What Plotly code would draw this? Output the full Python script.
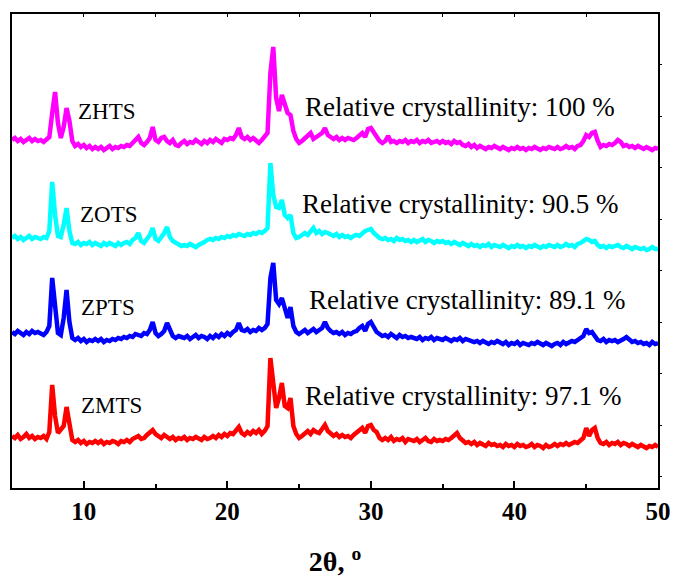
import plotly.graph_objects as go

# 2-theta sampling grid (degrees), 5.0 .. 50.0 step 0.2
two_theta = [round(5 + 0.2 * i, 1) for i in range(226)]

# Intensities (a.u.), one row = 2 degrees
zhts = [
    53, 55, 52, 54, 51, 53, 55, 52, 54, 52,
    53, 51, 54, 56, 80, 101, 70, 55, 66, 85,
    72, 52, 47, 49, 46, 48, 45, 47, 44, 46,
    44, 46, 43, 45, 47, 44, 46, 45, 47, 46,
    48, 47, 50, 53, 56, 50, 48, 51, 55, 66,
    53, 51, 55, 56, 52, 50, 53, 48, 47, 50,
    52, 49, 51, 50, 53, 51, 49, 52, 50, 53,
    51, 54, 52, 50, 54, 53, 55, 54, 58, 65,
    56, 54, 56, 53, 55, 52, 50, 53, 56, 60,
    120, 146, 95, 82, 98, 90, 80, 78, 62, 54,
    50, 52, 55, 58, 60, 54, 56, 58, 60, 65,
    58, 56, 54, 56, 53, 55, 53, 55, 54, 53,
    55, 57, 60, 56, 64, 65, 60, 55, 52, 50,
    52, 57, 51, 52, 50, 52, 51, 53, 50, 52,
    51, 53, 50, 52, 51, 53, 50, 51, 52, 50,
    52, 50, 51, 49, 52, 50, 51, 48, 47, 49,
    46, 48, 45, 47, 46, 44, 46, 45, 47, 45,
    44, 46, 45, 43, 45, 44, 46, 44, 45, 43,
    45, 44, 46, 44, 43, 45, 44, 46, 45, 44,
    46, 44, 45, 47, 45, 46, 44, 47, 48, 52,
    58, 56, 60, 61, 52, 46, 48, 47, 49, 48,
    50, 53, 51, 47, 48, 46, 47, 45, 47, 46,
    44, 46, 45, 43, 45, 44,
]

zots = [
    55, 57, 54, 56, 53, 55, 57, 54, 56, 55,
    54, 56, 55, 62, 111, 78, 57, 56, 68, 85,
    62, 50, 49, 51, 48, 50, 49, 51, 48, 50,
    49, 47, 50, 48, 50, 49, 47, 50, 48, 50,
    51, 49, 53, 55, 60, 52, 50, 54, 58, 65,
    54, 52, 56, 60, 66, 56, 52, 50, 49, 47,
    48, 47, 49, 48, 46, 48, 49, 51, 53, 54,
    53, 55, 54, 56, 55, 57, 56, 58, 57, 59,
    58, 57, 59, 58, 60, 59, 61, 60, 62, 65,
    130, 98, 86, 85, 93, 78, 75, 78, 60, 55,
    56, 58, 60, 58, 62, 65, 60, 62, 59, 61,
    60, 58, 57, 59, 56, 58, 56, 57, 55, 57,
    58, 57, 60, 62, 63, 64, 60, 57, 55, 54,
    55, 53, 54, 52, 55, 53, 54, 52, 53, 51,
    53, 51, 52, 54, 51, 53, 52, 50, 52, 51,
    52, 50, 51, 49, 51, 50, 48, 50, 49, 47,
    49, 47, 48, 46, 48, 47, 49, 46, 48, 47,
    46, 48, 47, 45, 47, 46, 48, 46, 47, 45,
    47, 46, 48, 46, 45, 47, 46, 48, 47, 46,
    48, 46, 47, 49, 47, 48, 46, 49, 50, 52,
    54, 53, 51, 52, 48, 46, 47, 45, 47, 46,
    47, 48, 46, 45, 47, 46, 44, 46, 45, 44,
    45, 43, 44, 46, 44, 44,
]

zpts = [
    56, 54, 57, 55, 53, 56, 54, 57, 55, 56,
    55, 53, 56, 62, 110, 80, 55, 53, 70, 98,
    66, 50, 48, 50, 47, 49, 46, 48, 47, 49,
    47, 49, 46, 48, 47, 49, 48, 50, 49, 51,
    50, 52, 51, 54, 53, 52, 55, 54, 58, 66,
    55, 52, 54, 57, 65, 58, 52, 50, 52, 51,
    50, 52, 49, 51, 53, 50, 52, 51, 49, 52,
    50, 53, 51, 54, 52, 55, 53, 56, 58, 65,
    58, 57, 59, 56, 58, 57, 60, 58, 60, 64,
    110, 125, 88, 84, 90, 80, 70, 81, 62, 56,
    54, 56, 58, 55, 57, 59, 56, 58, 60, 66,
    60, 57, 55, 56, 54, 56, 53, 55, 54, 56,
    57, 60, 62, 57, 64, 66, 60, 56, 54, 52,
    53, 51, 54, 52, 50, 53, 51, 52, 50, 51,
    50, 49, 51, 48, 50, 49, 51, 48, 50, 49,
    48, 50, 49, 47, 49, 48, 50, 47, 49, 48,
    48, 46, 47, 45, 47, 46, 44, 46, 45, 47,
    45, 44, 46, 43, 45, 44, 46, 43, 45, 44,
    43, 45, 44, 46, 44, 43, 45, 44, 42, 44,
    45, 43, 46, 44, 45, 47, 46, 48, 49, 52,
    59, 55, 56, 52, 48, 47, 49, 46, 48, 47,
    48, 46, 47, 49, 51, 48, 46, 47, 45, 46,
    44, 45, 43, 46, 44, 45,
]

zmts = [
    52, 50, 53, 49, 51, 54, 50, 52, 49, 51,
    50, 52, 49, 56, 103, 72, 55, 58, 62, 81,
    62, 48, 46, 48, 45, 47, 44, 46, 45, 47,
    45, 47, 44, 46, 45, 47, 46, 44, 47, 46,
    48, 46, 49, 50, 52, 49, 50, 53, 55, 58,
    54, 52, 50, 53, 51, 49, 51, 48, 50, 49,
    51, 48, 50, 49, 51, 50, 48, 51, 49, 50,
    52, 50, 53, 51, 54, 52, 55, 54, 58, 61,
    55, 53, 56, 54, 57, 55, 58, 54, 57, 62,
    130, 100, 80, 90, 105, 82, 80, 90, 62, 54,
    50, 52, 55, 57, 54, 58, 56, 55, 59, 63,
    57, 55, 52, 54, 51, 53, 51, 52, 50, 53,
    55, 58, 60, 55, 62, 63, 58, 56, 50, 48,
    50, 48, 51, 47, 49, 48, 50, 46, 49, 48,
    47, 49, 46, 48, 50, 47, 46, 49, 47, 48,
    47, 49, 48, 50, 52, 55, 50, 47, 45, 46,
    44, 46, 43, 45, 44, 42, 45, 43, 44, 42,
    43, 41, 44, 42, 43, 41, 44, 42, 43, 41,
    42, 44, 41, 43, 42, 40, 43, 41, 42, 44,
    42, 44, 43, 45, 43, 44, 46, 45, 47, 50,
    60, 52, 58, 60, 50, 45, 44, 46, 43, 45,
    44, 46, 43, 45, 44, 42, 44, 43, 41, 43,
    42, 40, 42, 41, 43, 41,
]

sample_names = ["ZMTS", "ZPTS", "ZOTS", "ZHTS"]
series = [zmts, zpts, zots, zhts]
offsets = [0, 100, 195, 295]
colors = ["#FF0000", "#0000FF", "#00FFFF", "#FF00FF"]
crystallinity = ["97.1", "89.1", "90.5", "100"]

# label placement (data coords)
name_pos = [(9.67, 83), (9.67, 181), (9.60, 274), (9.46, 376.5)]
rc_pos = [(25.27, 92), (25.55, 188), (25.06, 284), (25.27, 381)]

FONT = "Liberation Serif, Times New Roman, serif"

fig = go.Figure()
for name, s, off, col in zip(sample_names, series, offsets, colors):
    fig.add_trace(go.Scatter(
        x=two_theta[:len(s)], y=[v + off for v in s], mode="lines", name=name,
        line=dict(color=col, width=4.5), showlegend=False,
    ))

annotations = []
for name, (ax, ay) in zip(sample_names, name_pos):
    annotations.append(dict(x=ax, y=ay, xref="x", yref="y", text=name, showarrow=False,
                            xanchor="left", yanchor="middle",
                            font=dict(family=FONT, size=23, color="black")))
for c, (ax, ay) in zip(crystallinity, rc_pos):
    annotations.append(dict(x=ax, y=ay, xref="x", yref="y",
                            text=f"Relative crystallinity: {c} %", showarrow=False,
                            xanchor="left", yanchor="middle",
                            font=dict(family=FONT, size=27, color="black")))

fig.update_layout(
    width=673, height=578, autosize=False,
    margin=dict(l=12, r=15, t=14, b=90),
    paper_bgcolor="white", plot_bgcolor="white",
    annotations=annotations,
    xaxis=dict(
        range=[5, 50], tick0=10, dtick=10, ticks="inside", ticklen=7, tickwidth=1.5,
        tickcolor="black", showline=True, linecolor="black", linewidth=1.5, mirror=True,
        showgrid=False, zeroline=False, automargin=False,
        minor=dict(tick0=5, dtick=5, ticks="inside", ticklen=4, tickwidth=1.5, tickcolor="black"),
        tickfont=dict(family=FONT, size=25, color="black", weight="bold"),
        title=dict(text="2θ, <sup>o</sup>", font=dict(family=FONT, size=28, color="black", weight="bold"),
                   standoff=28),
    ),
    xaxis2=dict(
        range=[5, 50], overlaying="x", side="top", tick0=5, dtick=5, ticks="inside", ticklen=3,
        tickwidth=1, tickcolor="black", showticklabels=False, showgrid=False, zeroline=False,
        automargin=False,
    ),
    yaxis=dict(
        range=[0, 474], showticklabels=False, ticks="", showline=True, linecolor="black",
        linewidth=1.5, mirror=True, showgrid=False, zeroline=False, automargin=False,
    ),
    yaxis2=dict(
        range=[0, 474], overlaying="y", side="right", tick0=11.5, dtick=51.5, ticks="outside",
        ticklen=3, tickwidth=1, tickcolor="black", showticklabels=False, showgrid=False,
        zeroline=False, automargin=False,
    ),
)
# invisible trace to activate the secondary axes
fig.add_trace(go.Scatter(x=[None], y=[None], xaxis="x2", yaxis="y2", showlegend=False,
                         hoverinfo="skip"))

fig.write_html("out.html")
